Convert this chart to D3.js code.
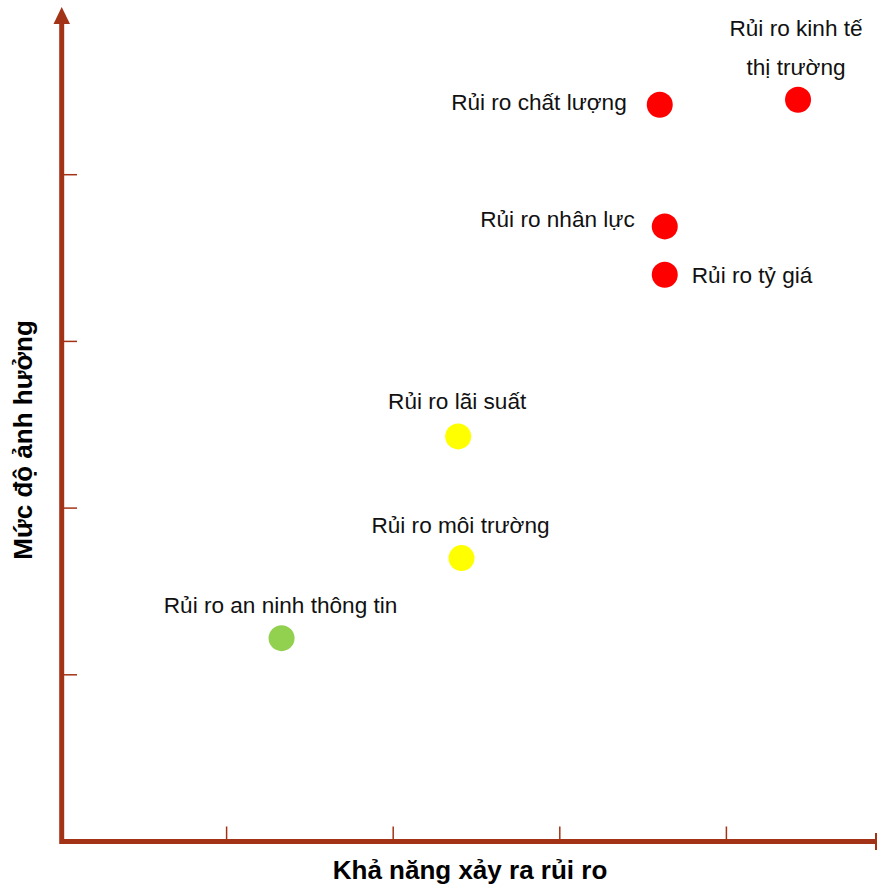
<!DOCTYPE html>
<html><head><meta charset="utf-8">
<script src="https://cdn.jsdelivr.net/npm/d3@7"></script>
<style>body{margin:0;background:#fff}text{font-family:"Liberation Sans",Arial,sans-serif}</style>
</head><body>
<svg id="c" width="877" height="888"></svg>
<script>
const names = ["Rủi ro chất lượng","Rủi ro kinh tế thị trường","Rủi ro nhân lực","Rủi ro tỷ giá","Rủi ro lãi suất","Rủi ro môi trường","Rủi ro an ninh thông tin"];
const likelihood = [3.60, 4.43, 3.63, 3.63, 2.39, 2.41, 1.33];
const impact = [4.42, 4.45, 3.69, 3.40, 2.43, 1.70, 1.22];
const levels = ["high","high","high","high","medium","medium","low"];
const ticks = [1,2,3,4];
const xTitle = "Khả năng xảy ra rủi ro";
const yTitle = "Mức độ ảnh hưởng";

const colorMap = {high:"#ff0000", medium:"#ffff00", low:"#92d050"};
const axisColor = "#a33316";
const svg = d3.select("#c");
const x = d3.scaleLinear().domain([0,5]).range([60,893]);
const y = d3.scaleLinear().domain([0,5]).range([841.5,8]);

// axes
svg.append("line").attr("x1",x(0)).attr("x2",877).attr("y1",y(0)).attr("y2",y(0))
  .attr("stroke",axisColor).attr("stroke-width",5);
svg.append("line").attr("x1",61.7).attr("x2",61.7).attr("y1",y(0)+2.5).attr("y2",22)
  .attr("stroke",axisColor).attr("stroke-width",5);
svg.append("path").attr("d","M61.7,7 L53.5,24 L70,24 Z").attr("fill",axisColor);
svg.append("line").attr("x1",876).attr("x2",876).attr("y1",833).attr("y2",850)
  .attr("stroke",axisColor).attr("stroke-width",2);
svg.selectAll(".xt").data(ticks).enter().append("line")
  .attr("x1",d=>x(d)).attr("x2",d=>x(d)).attr("y1",y(0)).attr("y2",y(0)-15)
  .attr("stroke",axisColor).attr("stroke-width",1.5);
svg.selectAll(".yt").data(ticks).enter().append("line")
  .attr("y1",d=>y(d)).attr("y2",d=>y(d)).attr("x1",61.7).attr("x2",77)
  .attr("stroke",axisColor).attr("stroke-width",1.5);

// titles
svg.append("text").attr("x",470).attr("y",879).attr("text-anchor","middle")
  .attr("font-size",26).attr("font-weight","bold").text(xTitle);
svg.append("text").attr("transform","translate(32,440) rotate(-90)").attr("text-anchor","middle")
  .attr("font-size",26).attr("font-weight","bold").text(yTitle);

const data = names.map((n,i)=>({n, x:likelihood[i], y:impact[i], c:colorMap[levels[i]]}));
svg.selectAll("circle").data(data).enter().append("circle")
  .attr("cx",d=>x(d.x)).attr("cy",d=>y(d.y)).attr("r",13).attr("fill",d=>d.c);

// label placement (offsets relative to point)
const lab = [
  {dx:-33, dy:5, a:"end"},
  {dx:-2, dy:-64, a:"middle", lines:["Rủi ro kinh tế","thị trường"], lh:39},
  {dx:-30, dy:1, a:"end"},
  {dx:27, dy:8, a:"start"},
  {dx:-1, dy:-27, a:"middle"},
  {dx:-1, dy:-25, a:"middle"},
  {dx:-1, dy:-25, a:"middle"}
];
data.forEach((d,i)=>{
  const L = lab[i];
  const t = svg.append("text").attr("x",x(d.x)+L.dx).attr("y",y(d.y)+L.dy)
    .attr("text-anchor",L.a).attr("font-size",22.6).attr("fill","#111");
  if (L.lines) {
    L.lines.forEach((s,k)=>t.append("tspan").attr("x",x(d.x)+L.dx).attr("dy",k?L.lh:0).text(s));
  } else t.text(d.n);
});
</script>
</body></html>
